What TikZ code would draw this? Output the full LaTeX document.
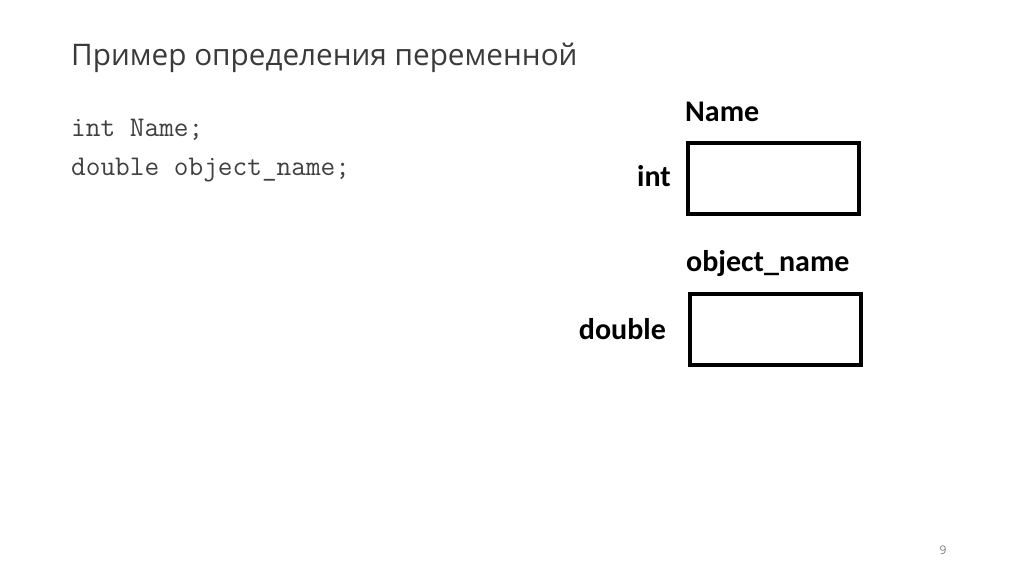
\documentclass[tikz,border=0pt]{standalone}
\usepackage{fontspec}
\setmainfont{Open Sans}
\newfontfamily\labelfont{Carlito}
\definecolor{titlegray}{HTML}{3A3A3A}
\definecolor{codegray}{HTML}{404040}
\tikzset{
  varbox/.style={draw, line width=4pt, minimum width=171pt, minimum height=71pt, inner sep=0pt},
  varlabel/.style={font=\labelfont\bfseries\fontsize{30}{36}\selectfont, inner sep=0pt},
  codeline/.style={font=\ttfamily\fontsize{28.5}{34}\selectfont, text=codegray, inner sep=0pt, anchor=base west}
}
\begin{document}
\begin{tikzpicture}[x=1pt, y=-1pt]
	\useasboundingbox (0,0) rectangle (1024,574);
            \node[font=\fontsize{29.7}{35}\selectfont, text=titlegray, inner sep=0pt, anchor=base west] (title) at (71,65) {Пример определения переменной};

            \node[codeline] (code1) at (71,136) {int Name;};
            \node[codeline] (code2) at (71,175) {double object\_name;};

            \node[varbox] (box1) at (773.5,178) {};
            \node[varbox] (box2) at (775.5,329) {};

            \node[varlabel, anchor=base west] (name1) at (685,121) {Name};
            \node[varlabel, anchor=base east] (type1) at (671,186) {int};
            \node[varlabel, anchor=base west] (name2) at (686,271) {object\_name};
            \node[varlabel, anchor=base east] (type2) at (666,339) {double};

            \node[font=\fontsize{12}{14}\selectfont, text=gray, inner sep=0pt, anchor=base] (page) at (943,554) {9};
        \end{tikzpicture}
\end{document}
